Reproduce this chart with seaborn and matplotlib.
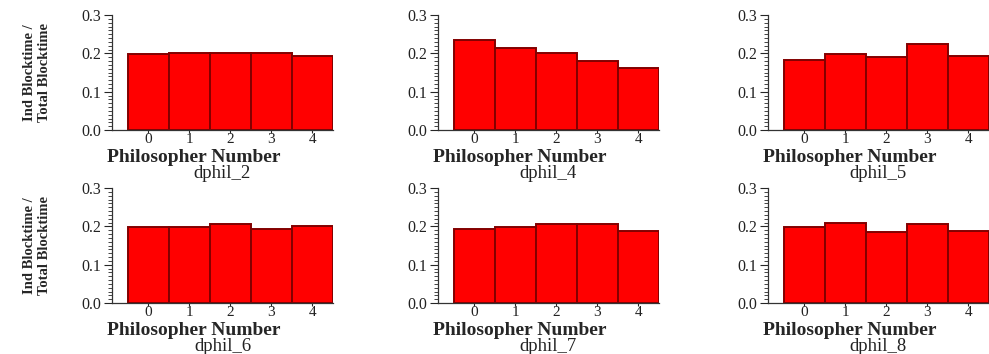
import pandas as pd
import matplotlib
matplotlib.use('Agg')
import matplotlib.pyplot as plt
import seaborn as sns
from matplotlib.ticker import AutoMinorLocator, FormatStrFormatter

### Values (ind blocktime / total blocktime) ###
philosophers = [0, 1, 2, 3, 4]
dphil_2 = [0.198, 0.201, 0.201, 0.201, 0.194]
dphil_4 = [0.235, 0.215, 0.201, 0.181, 0.162]
dphil_5 = [0.183, 0.199, 0.190, 0.225, 0.193]
dphil_6 = [0.199, 0.199, 0.205, 0.193, 0.202]
dphil_7 = [0.193, 0.199, 0.206, 0.206, 0.189]
dphil_8 = [0.199, 0.208, 0.185, 0.206, 0.189]
run_names = ['dphil_2', 'dphil_4', 'dphil_5', 'dphil_6', 'dphil_7', 'dphil_8']
run_values = [dphil_2, dphil_4, dphil_5, dphil_6, dphil_7, dphil_8]

sns.set_style('ticks')
plt.rcParams['font.family'] = ['Liberation Serif', 'DejaVu Serif']

fig = plt.figure(figsize=(9.89, 3.54), dpi=100)
W, H = 989, 354
col_left = [112, 438, 768]   # pixel x of the y spine
row_base = [130, 303]        # pixel y of the zero line
ax_w, ax_h = 221, 115

for i, (name, vals) in enumerate(zip(run_names, run_values)):
    row, col = divmod(i, 3)
    ax = fig.add_axes([col_left[col] / W, 1 - row_base[row] / H, ax_w / W, ax_h / H])
    df = pd.DataFrame({'philosopher': philosophers, 'ratio': vals})
    sns.barplot(data=df, x='philosopher', y='ratio', color='#ff0000', saturation=1,
                edgecolor='#820000', linewidth=1.4, width=1.0, ax=ax)

    ax.set_xlim(-0.89, 4.5)
    ax.set_ylim(0, 0.3)
    ax.set_yticks([0.0, 0.1, 0.2, 0.3])
    ax.yaxis.set_minor_locator(AutoMinorLocator(10))
    ax.yaxis.set_major_formatter(FormatStrFormatter('%.1f'))
    ax.tick_params(axis='y', which='major', direction='out', length=6, width=0.8,
                   labelsize=11.5, pad=2, labelcolor='#222222')
    ax.tick_params(axis='y', which='minor', direction='out', length=3, width=0.6)
    ax.tick_params(axis='x', direction='out', length=2.5, width=0.8, labelsize=11, pad=0,
                   labelcolor='#222222')
    sns.despine(ax=ax)
    for s in ['left', 'bottom']:
        ax.spines[s].set_linewidth(0.9)
        ax.spines[s].set_color('#333333')

    ax.set_xlabel('Philosopher Number', fontsize=14, fontweight='bold')
    ax.xaxis.set_label_coords(0.37, -0.24)
    ax.xaxis.label.set_va('center')
    ax.text(0.5, -0.378, name, transform=ax.transAxes, ha='center', va='center', fontsize=13.5,
            color='#222222')

    if col == 0:
        ax.set_ylabel('Ind Blocktime /\nTotal Blocktime', fontsize=10.5, fontweight='bold', linespacing=1.15)
        ax.yaxis.set_label_coords(-0.34, 0.5)
        ax.yaxis.label.set_va('center')
    else:
        ax.set_ylabel('')

fig.savefig('out.png', dpi=100)
